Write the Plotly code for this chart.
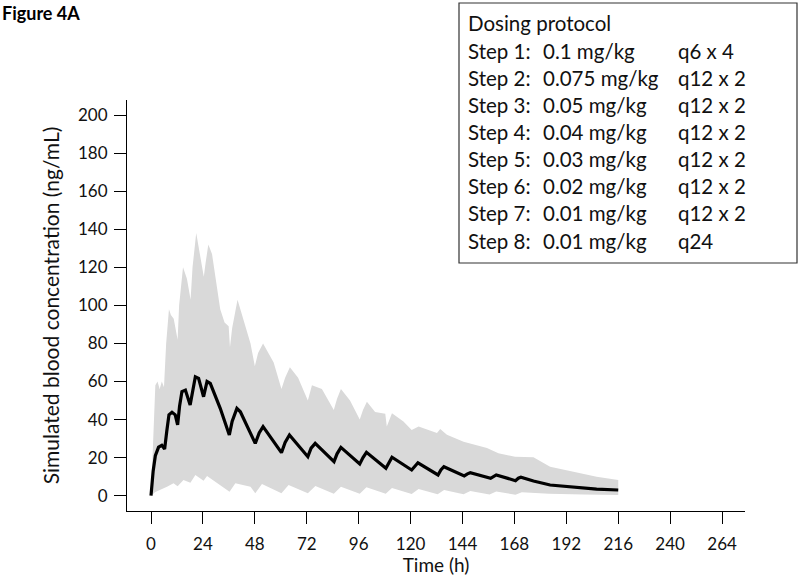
import plotly.graph_objects as go

# ---------------- data ----------------
median_time = [0, 1, 2, 3.5, 5, 6.3, 7.3, 8.3, 9.7, 11.2, 12.3, 13.2, 14.3, 15.9, 18.1,
               19.2, 20.5, 22, 24.3, 25.9, 27.4, 32, 36.2, 37.5, 39.7, 41.3, 48.2, 50,
               51.8, 60.3, 62, 64, 72.5, 74, 75.9, 84.6, 86, 87.8, 96.5, 98, 99.6, 108.6,
               110, 111.4, 120.5, 122, 123.4, 132.7, 134, 135.4, 144.8, 146.3, 147.6, 157,
               158.3, 159.6, 168.5, 169.8, 171, 176.8, 184.5, 195.3, 206, 216]
median_conc = [0, 13, 21, 25.5, 26.5, 24.5, 34, 42.5, 43.8, 42.5, 37.2, 47, 54.7, 55.5, 47.7,
               55, 62.5, 61.7, 52, 60, 59, 45.9, 31.9, 39, 45.9, 44.1, 27.5, 33,
               36.3, 22.6, 28, 31.9, 20.5, 25, 27.5, 17.9, 22, 25.4, 16.7, 20, 22.8, 14.4,
               17.5, 20.2, 13.5, 15.8, 17.3, 10.9, 13.5, 15.2, 10.4, 11.5, 12.1, 9.1,
               10.2, 10.9, 7.9, 9.2, 9.7, 7.7, 5.6, 4.4, 3.5, 3.0]

upper_time = [0, 1.5, 2, 3, 4, 5, 6, 7, 8.3, 9.2, 10.5, 12.3, 13, 14.8, 16.6, 18.3, 19.2,
              20.9, 22.8, 24.4, 25.2, 26.5, 28.2, 30, 32, 34, 35.9, 36.5, 37.5, 40, 42,
              46, 48, 49.5, 51.8, 56.7, 60.3, 62, 64.2, 68, 72.5, 74.4, 79, 84.5, 86,
              87.8, 92, 96.5, 98, 99.8, 103.6, 108.3, 109, 111.4, 116.7, 120.5, 123.7,
              132.2, 133.7, 136.8, 144.5, 147.6, 155.3, 160.6, 168.3, 176.8, 184.5,
              195.3, 206, 216]
upper_conc = [0, 40, 58, 60, 56, 60, 57, 80, 98, 95, 93, 82, 100, 120, 114, 103, 120,
              138, 126, 115, 122, 132, 127, 113, 98, 91, 89, 78, 88, 103, 95,
              80, 68, 75, 80, 70, 56, 62, 67.5, 62, 50, 58, 56, 45, 51,
              56, 50, 40, 45, 49.4, 44, 43, 36.3, 43.3, 39, 34.5, 36.3,
              33, 35, 32, 28.4, 27.5, 25, 22.3, 20.5, 20.2, 15.2,
              12.6, 10, 8.3]

lower_time = [0, 2, 5, 7.4, 10.4, 12.3, 15, 18.2, 20.5, 24.3, 25.9, 32, 36.3, 39, 46,
              48.2, 51.3, 60.3, 63.6, 72.5, 76, 84.5, 87.8, 96.5, 99.6, 108.5, 111.4,
              120.5, 123.7, 132.5, 135.5, 144.5, 147.6, 156.5, 159.6, 168.5, 171.4,
              184, 200, 216]
lower_conc = [0, 2, 3.5, 4.7, 6.5, 5, 8.2, 6.8, 10.9, 7.9, 10.4, 5.6, 2.1, 6.5, 4.7,
              1.3, 6.1, 1.3, 5.6, 1.3, 5.1, 1.0, 4.7, 1.0, 4.4, 1.0, 4.0,
              0.9, 3.5, 0.8, 3.0, 0.7, 2.5, 0.6, 2.2, 0.5, 1.8,
              1.0, 0.6, 0.4]

x_ticks = [0, 24, 48, 72, 96, 120, 144, 168, 192, 216, 240, 264]
y_ticks = [0, 20, 40, 60, 80, 100, 120, 140, 160, 180, 200]

legend_title = "Dosing protocol"
legend_steps = ["Step 1:", "Step 2:", "Step 3:", "Step 4:", "Step 5:", "Step 6:", "Step 7:", "Step 8:"]
legend_doses = ["0.1 mg/kg", "0.075 mg/kg", "0.05 mg/kg", "0.04 mg/kg", "0.03 mg/kg",
                "0.02 mg/kg", "0.01 mg/kg", "0.01 mg/kg"]
legend_freqs = ["q6 x 4", "q12 x 2", "q12 x 2", "q12 x 2", "q12 x 2", "q12 x 2", "q12 x 2", "q24"]

# ---------------- layout geometry ----------------
W, H = 800, 584
L, R, T, B = 127, 55, 100, 73
PW, PH = W - L - R, H - T - B
FONT = "Lato, 'Open Sans', sans-serif"
TXT = "#111111"


def pxx(px):
    return (px - L) / PW


def pxy(py):
    return (H - B - py) / PH


fig = go.Figure()

# 90% band as a closed polygon
band_x = upper_time + lower_time[::-1]
band_y = upper_conc + lower_conc[::-1]
fig.add_trace(go.Scatter(x=band_x, y=band_y, fill="toself", fillcolor="#d9d9d9",
                         line=dict(width=0), mode="lines", hoverinfo="skip",
                         showlegend=False))
fig.add_trace(go.Scatter(x=median_time, y=median_conc, mode="lines",
                         line=dict(color="black", width=3.2), showlegend=False))

axis_common = dict(showline=True, linecolor="black", linewidth=1.2, ticks="outside",
                   ticklen=12, tickwidth=1.2, tickcolor="black", showgrid=False,
                   zeroline=False, automargin=False,
                   tickfont=dict(family=FONT, size=17, color=TXT))

fig.update_xaxes(range=[-11.1, 274.6], tickvals=x_ticks, ticktext=[str(v) for v in x_ticks],
                 ticklabelstandoff=5,
                 title=dict(text="Time (h)", font=dict(family=FONT, size=19, color=TXT),
                            standoff=6),
                 **axis_common)
fig.update_yaxes(range=[-8.04, 207.9], tickvals=y_ticks, ticktext=[str(v) for v in y_ticks],
                 ticklabelstandoff=3,
                 title=dict(text="Simulated blood concentration (ng/mL)",
                            font=dict(family=FONT, size=21, color=TXT), standoff=12),
                 **axis_common)

annotations = [dict(text="<b>Figure 4A</b>", x=pxx(0), y=pxy(13), xref="paper", yref="paper",
                    xanchor="left", yanchor="middle", showarrow=False,
                    font=dict(family=FONT, size=18, color="black"))]

row_y = [51, 78, 105, 132, 159, 186, 213, 241]
annotations.append(dict(text=legend_title, x=pxx(466), y=pxy(23), xref="paper", yref="paper",
                        xanchor="left", yanchor="middle", showarrow=False,
                        font=dict(family=FONT, size=20.5, color=TXT)))
for i in range(len(legend_steps)):
    for txt, xp in ((legend_steps[i], 466), (legend_doses[i], 541), (legend_freqs[i], 676)):
        annotations.append(dict(text=txt, x=pxx(xp), y=pxy(row_y[i]), xref="paper", yref="paper",
                                xanchor="left", yanchor="middle", showarrow=False,
                                font=dict(family=FONT, size=20.5, color=TXT)))

fig.update_layout(
    template="none",
    width=W, height=H, margin=dict(l=L, r=R, t=T, b=B, autoexpand=False), autosize=False,
    paper_bgcolor="white", plot_bgcolor="white",
    annotations=annotations,
    shapes=[dict(type="rect", xref="paper", yref="paper", x0=pxx(459), x1=pxx(797),
                 y0=pxy(263), y1=pxy(3), line=dict(color="#333333", width=1.2))],
)

fig.write_html("out.html", config={"displayModeBar": False},
               post_script="document.body.style.margin='0';document.body.style.overflow='hidden';")
